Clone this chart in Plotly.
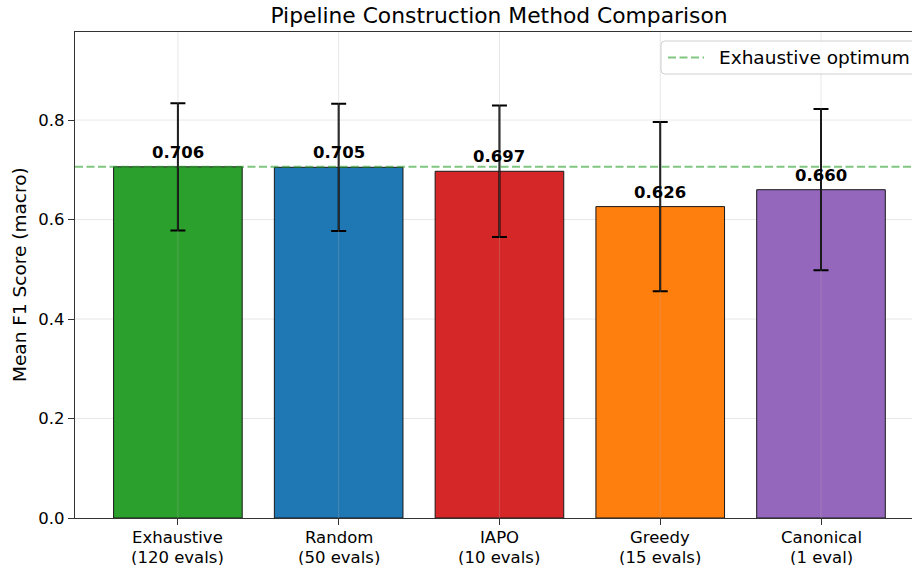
import plotly.graph_objects as go

methods = ["Exhaustive", "Random", "IAPO", "Greedy", "Canonical"]
eval_counts = ["(120 evals)", "(50 evals)", "(10 evals)", "(15 evals)", "(1 eval)"]
mean_f1 = [0.706, 0.705, 0.697, 0.626, 0.660]
std_f1 = [0.128, 0.128, 0.132, 0.170, 0.162]
bar_colors = ["#2ca02c", "#1f77b4", "#d62728", "#ff7f0e", "#9467bd"]
optimum = mean_f1[0]
y_ticks = [0.0, 0.2, 0.4, 0.6, 0.8]
legend_label = "Exhaustive optimum"
y_title = "Mean F1 Score (macro)"
chart_title = "Pipeline Construction Method Comparison"

X_RANGE = [-0.64, 4.566]
Y_RANGE = [0, 0.977]
FONT = "DejaVu Sans"
W, H = 912, 565
ML, MR, MT, MB = 75, 0, 32, 47
PW, PH = W - ML - MR, H - MT - MB

def px_x(p):
    return (p - ML) / PW

def px_y(p):
    return (H - MB - p) / PH

xpos = list(range(len(methods)))
opt_color = "rgba(44,160,44,0.6)"

fig = go.Figure()
fig.add_trace(go.Bar(
    x=xpos, y=mean_f1, width=0.8,
    marker=dict(color=bar_colors, line=dict(color="#1a1a1a", width=1)),
    error_y=dict(type="data", array=std_f1, visible=True, color="black", thickness=2, width=7.5),
    showlegend=False,
))
fig.add_trace(go.Scatter(
    x=X_RANGE, y=[optimum, optimum], mode="lines",
    line=dict(color=opt_color, width=2, dash="8px,3.5px"),
    name=legend_label, showlegend=False,
))

grid_color = "rgba(176,176,176,0.3)"
shapes = []
for xv in xpos:
    shapes.append(dict(type="line", xref="x", yref="paper", x0=xv, x1=xv, y0=0, y1=1,
                       line=dict(color=grid_color, width=1), layer="above"))
for yv in y_ticks[1:]:
    shapes.append(dict(type="line", xref="paper", yref="y", x0=0, x1=1, y0=yv, y1=yv,
                       line=dict(color=grid_color, width=1), layer="below"))

# legend box (rounded) drawn manually, clipped at the right edge like the reference
bx0, bx1 = px_x(661), px_x(925)
by0, by1 = px_y(74), px_y(41)
rx, ry = 4 / PW, 4 / PH
path = (f"M{bx0+rx},{by1} L{bx1-rx},{by1} Q{bx1},{by1} {bx1},{by1-ry} "
        f"L{bx1},{by0+ry} Q{bx1},{by0} {bx1-rx},{by0} L{bx0+rx},{by0} "
        f"Q{bx0},{by0} {bx0},{by0+ry} L{bx0},{by1-ry} Q{bx0},{by1} {bx0+rx},{by1} Z")
shapes.append(dict(type="path", xref="paper", yref="paper", path=path,
                   fillcolor="rgba(255,255,255,0.8)", line=dict(color="#d0d0d0", width=1),
                   layer="above"))
ly = px_y(57.5)
shapes.append(dict(type="line", xref="paper", yref="paper", x0=px_x(668), x1=px_x(704),
                   y0=ly, y1=ly, line=dict(color=opt_color, width=2, dash="8px,3.5px"),
                   layer="above"))

annotations = []
for xv, m in zip(xpos, mean_f1):
    annotations.append(dict(x=xv, y=m + 0.006, text=f"<b>{m:.3f}</b>", showarrow=False,
                            xanchor="center", yanchor="bottom",
                            font=dict(family=FONT, size=16.5, color="black")))
for xv, name, ev in zip(xpos, methods, eval_counts):
    annotations.append(dict(x=xv, xref="x", y=0, yref="paper", yanchor="top", yshift=-8,
                            text=name, showarrow=False,
                            font=dict(family=FONT, size=16.5, color="black")))
    annotations.append(dict(x=xv, xref="x", y=0, yref="paper", yanchor="top", yshift=-28,
                            text=ev, showarrow=False,
                            font=dict(family=FONT, size=16.5, color="black")))
annotations.append(dict(x=px_x(717), y=ly, xref="paper", yref="paper", xanchor="left",
                        yanchor="middle", text=legend_label, showarrow=False,
                        font=dict(family=FONT, size=18.5, color="black")))
annotations.append(dict(x=px_x(19), y=px_y(275), xref="paper", yref="paper",
                        xanchor="center", yanchor="middle", textangle=-90,
                        text=y_title, showarrow=False,
                        font=dict(family=FONT, size=18.5, color="black")))

fig.update_layout(
    width=W, height=H,
    margin=dict(l=ML, r=MR, t=MT, b=MB, autoexpand=False),
    plot_bgcolor="white", paper_bgcolor="white",
    font=dict(family=FONT, size=16.5, color="black"),
    showlegend=False,
    title=dict(text=chart_title, x=px_x(499), xref="paper",
               xanchor="center", y=1, yref="paper", yanchor="bottom",
               pad=dict(b=9), font=dict(size=21.8, family=FONT, color="black")),
    xaxis=dict(range=X_RANGE, tickvals=xpos, ticktext=["" for _ in xpos], showgrid=False,
               showline=True, linecolor="#333", linewidth=1.2, mirror=True,
               ticks="outside", ticklen=6, tickcolor="#333", zeroline=False,
               automargin=False),
    yaxis=dict(range=Y_RANGE, tickvals=y_ticks, ticktext=[f"{v:.1f}" for v in y_ticks],
               showgrid=False, showline=True, linecolor="#333", linewidth=1.2,
               ticks="outside", ticklen=6, tickcolor="#333", zeroline=False,
               tickfont=dict(size=16.5), automargin=False),
    shapes=shapes, annotations=annotations,
)

fig.write_html("out.html", config={"displayModeBar": False},
               post_script="document.body.style.margin='0';")
